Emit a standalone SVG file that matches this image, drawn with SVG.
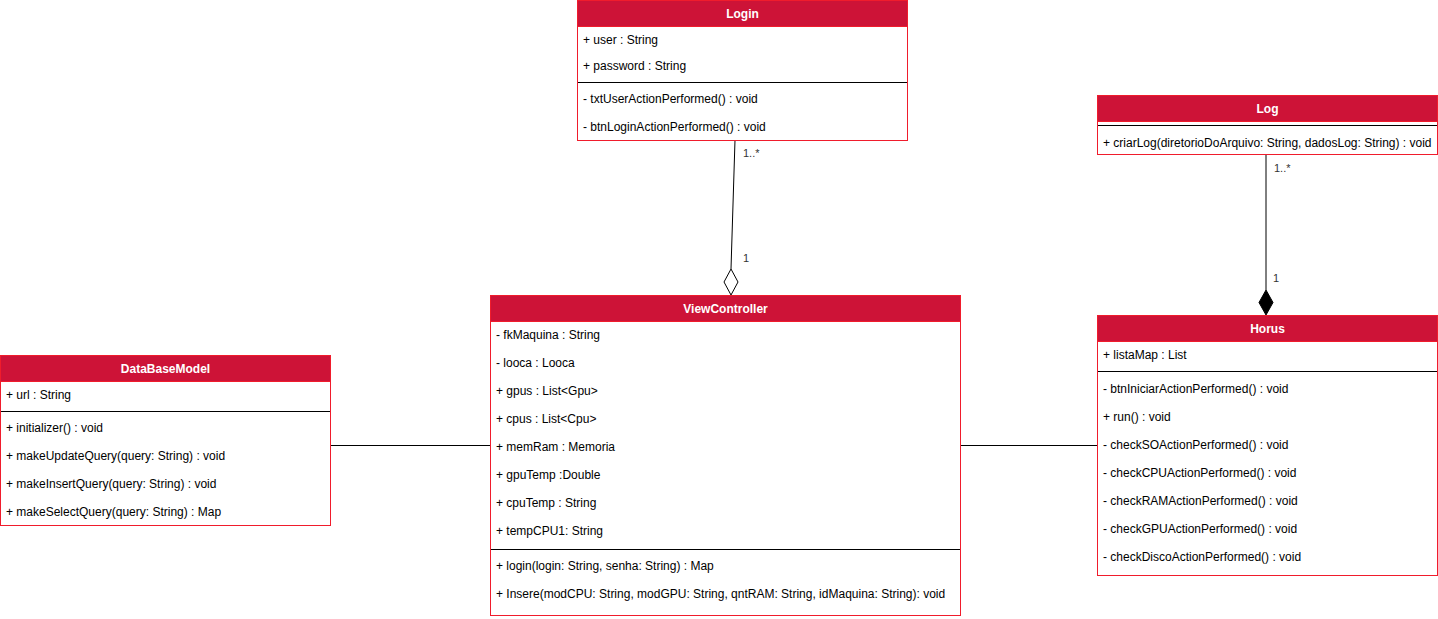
<svg xmlns="http://www.w3.org/2000/svg" width="1438" height="619" viewBox="0 0 1438 619">
<style>
.box{fill:#ffffff;stroke:#f01c2c;stroke-width:1}
.hdr{fill:#cd1337;stroke:#f01c2c;stroke-width:1}
.sep{stroke:#000;stroke-width:1}
.t{font-family:"Liberation Sans",Arial,sans-serif;font-size:12px;fill:#000;dominant-baseline:central}
.h{font-family:"Liberation Sans",Arial,sans-serif;font-size:12px;font-weight:bold;fill:#fff;text-anchor:middle;dominant-baseline:central}
.lbl{font-family:"Liberation Sans",Arial,sans-serif;font-size:11px;fill:#333;dominant-baseline:central}
.ln{stroke:#000;stroke-width:1;fill:none}
</style>
<rect width="1438" height="619" fill="#fff"/>
<g id="connectors">
<line class="ln" x1="735" y1="140" x2="731" y2="269"/>
<polygon points="731,295 738,282 731,269 724,282" fill="#fff" stroke="#000"/>
<text class="lbl" x="743" y="153">1..*</text>
<text class="lbl" x="743" y="258">1</text>
<line class="ln" x1="1266" y1="155" x2="1266" y2="290"/>
<polygon points="1266,315 1273,302.5 1266,290 1259,302.5" fill="#000" stroke="#000"/>
<text class="lbl" x="1274" y="168">1..*</text>
<text class="lbl" x="1273" y="278">1</text>
<line class="ln" x1="330" y1="445.5" x2="490" y2="445.5"/>
<line class="ln" x1="960" y1="445.5" x2="1097" y2="445.5"/>
</g>
<g id="login">
<rect class="box" x="577.5" y="0.5" width="330" height="140"/>
<rect class="hdr" x="577.5" y="0.5" width="330" height="26"/>
<text class="h" x="742.5" y="14">Login</text>
<text class="t" x="583" y="40">+ user : String</text>
<text class="t" x="583" y="66">+ password : String</text>
<line class="sep" x1="578" y1="82.5" x2="907" y2="82.5"/>
<text class="t" x="583" y="99">- txtUserActionPerformed() : void</text>
<text class="t" x="583" y="127">- btnLoginActionPerformed() : void</text>
</g>
<g id="log">
<rect class="box" x="1097.5" y="95.5" width="340" height="59"/>
<rect class="hdr" x="1097.5" y="95.5" width="340" height="26"/>
<text class="h" x="1267.5" y="109">Log</text>
<line class="sep" x1="1098" y1="125.5" x2="1437" y2="125.5"/>
<text class="t" x="1103" y="143">+ criarLog(diretorioDoArquivo: String, dadosLog: String) : void</text>
</g>
<g id="viewcontroller">
<rect class="box" x="490.5" y="295.5" width="470" height="320"/>
<rect class="hdr" x="490.5" y="295.5" width="470" height="26"/>
<text class="h" x="725.5" y="309">ViewController</text>
<text class="t" x="496" y="335">- fkMaquina : String</text>
<text class="t" x="496" y="363">- looca : Looca</text>
<text class="t" x="496" y="391">+ gpus : List&lt;Gpu&gt;</text>
<text class="t" x="496" y="419">+ cpus : List&lt;Cpu&gt;</text>
<text class="t" x="496" y="447">+ memRam : Memoria</text>
<text class="t" x="496" y="475">+ gpuTemp :Double</text>
<text class="t" x="496" y="503">+ cpuTemp : String</text>
<text class="t" x="496" y="531">+ tempCPU1: String</text>
<line class="sep" x1="491" y1="549.5" x2="960" y2="549.5"/>
<text class="t" x="496" y="566">+ login(login: String, senha: String) : Map</text>
<text class="t" x="496" y="594">+ Insere(modCPU: String, modGPU: String, qntRAM: String, idMaquina: String): void</text>
</g>
<g id="databasemodel">
<rect class="box" x="0.5" y="355.5" width="330" height="170"/>
<rect class="hdr" x="0.5" y="355.5" width="330" height="26"/>
<text class="h" x="165.5" y="369">DataBaseModel</text>
<text class="t" x="6" y="395">+ url : String</text>
<line class="sep" x1="1" y1="411.5" x2="330" y2="411.5"/>
<text class="t" x="6" y="428">+ initializer() : void</text>
<text class="t" x="6" y="456">+ makeUpdateQuery(query: String) : void</text>
<text class="t" x="6" y="484">+ makeInsertQuery(query: String) : void</text>
<text class="t" x="6" y="512">+ makeSelectQuery(query: String) : Map</text>
</g>
<g id="horus">
<rect class="box" x="1097.5" y="315.5" width="340" height="260"/>
<rect class="hdr" x="1097.5" y="315.5" width="340" height="26"/>
<text class="h" x="1267.5" y="329">Horus</text>
<text class="t" x="1103" y="355">+ listaMap : List</text>
<line class="sep" x1="1098" y1="371.5" x2="1437" y2="371.5"/>
<text class="t" x="1103" y="389">- btnIniciarActionPerformed() : void</text>
<text class="t" x="1103" y="417">+ run() : void</text>
<text class="t" x="1103" y="445">- checkSOActionPerformed() : void</text>
<text class="t" x="1103" y="473">- checkCPUActionPerformed() : void</text>
<text class="t" x="1103" y="501">- checkRAMActionPerformed() : void</text>
<text class="t" x="1103" y="529">- checkGPUActionPerformed() : void</text>
<text class="t" x="1103" y="557">- checkDiscoActionPerformed() : void</text>
</g>
</svg>
